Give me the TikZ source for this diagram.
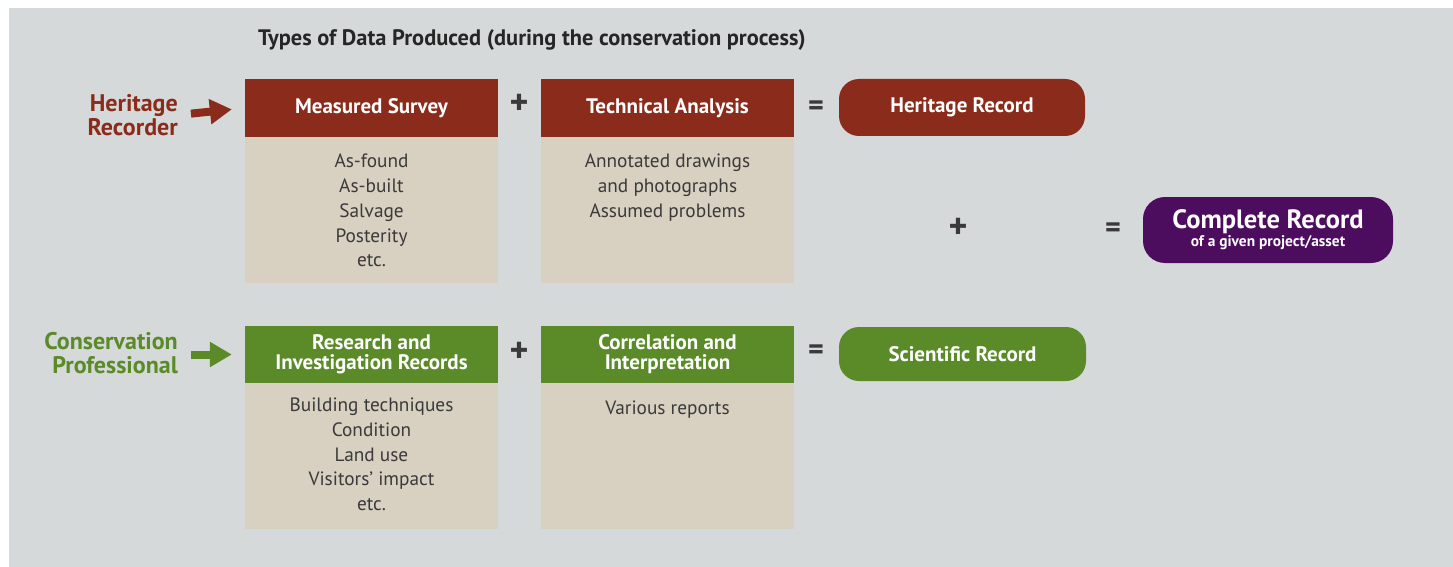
\documentclass[tikz,border=0pt]{standalone}
\usepackage{fontspec}
\setmainfont{PT Sans}
\usetikzlibrary{arrows.meta}

\definecolor{bggray}{HTML}{D6D9D9}
\definecolor{herired}{HTML}{8A2B1C}
\definecolor{consgreen}{HTML}{5B8A29}
\definecolor{bodytan}{HTML}{D8D0C1}
\definecolor{recpurple}{HTML}{4D0D5E}
\definecolor{darktext}{HTML}{3A3A3A}

\tikzset{
    headbox/.style={minimum width=253pt, minimum height=58pt, inner sep=0pt, text=white, align=center, font=\bfseries\fontsize{21}{20}\selectfont},
    bodybox/.style={fill=bodytan, minimum width=253pt, minimum height=146pt, inner sep=0pt, anchor=north},
    bodylist/.style={anchor=north, inner sep=0pt, align=center, text=darktext, font=\fontsize{19.3}{24.7}\selectfont},
    recbox/.style={rounded corners=20pt, inner sep=0pt, text=white, align=center, font=\bfseries\fontsize{21}{20}\selectfont},
    rolelabel/.style={anchor=east, inner sep=0pt, align=right, font=\bfseries\fontsize{24}{24}\selectfont},
    plussign/.style={inner sep=0pt, text=darktext, font=\bfseries\fontsize{36}{36}\selectfont},
    eqsign/.style={inner sep=0pt, text=darktext, font=\bfseries\fontsize{30}{30}\selectfont},
    fatarrow/.style={line width=8pt, -{Triangle[length=22pt, width=24pt]}, shorten <=13pt, shorten >=13pt}
}

\begin{document}
\begin{tikzpicture}[x=1pt, y=-1pt]
            \useasboundingbox (0,0) rectangle (1453,567);
            \fill[bggray] (9,8) rectangle (1453,567);

            % Title
            \node[inner sep=0pt, text=black!85, font=\bfseries\fontsize{22.4}{24}\selectfont] (title) at (532, 40) {Types of Data Produced (during the conservation process)};

            % Heritage row
            \node[rolelabel, text=herired] (heritage) at (178, 115) {Heritage\\Recorder};
            \node[headbox, fill=herired] (survey) at (371.5, 108) {Measured Survey};
            \node[bodybox] (surveybody) at (371.5, 137) {};
            \node[bodylist] (surveylist) at (371.5, 154) {As-found\\As-built\\Salvage\\Posterity\\etc.};
            \node[plussign] (plus1) at (519, 104) {+};
            \node[headbox, fill=herired] (analysis) at (667.5, 108) {Technical Analysis};
            \node[bodybox] (analysisbody) at (667.5, 137) {};
            \node[bodylist] (analysislist) at (667.5, 154) {Annotated drawings\\and photographs\\Assumed problems};
            \node[eqsign] (equals1) at (816, 108) {=};
            \node[recbox, fill=herired, minimum width=246pt, minimum height=57pt] (herrecord) at (962, 107.5) {Heritage Record};

            % Complete record
            \node[plussign] (plus3) at (958, 228) {+};
            \node[eqsign] (equals3) at (1113, 230) {=};
            \node[recbox, fill=recpurple, rounded corners=22pt, minimum width=250pt, minimum height=66pt] (complete) at (1268, 230) {{\fontsize{26.5}{26}\selectfont Complete Record}\\[-2pt]{\fontsize{15.4}{16}\selectfont of a given project/asset}};

            % Conservation row
            \node[rolelabel, text=consgreen] (conservation) at (178, 353) {Conservation\\Professional};
            \node[headbox, fill=consgreen, minimum height=57pt] (research) at (371.5, 354.5) {Research and\\Investigation Records};
            \node[bodybox] (researchbody) at (371.5, 383) {};
            \node[bodylist] (researchlist) at (371.5, 398) {Building techniques\\Condition\\Land use\\Visitors’ impact\\etc.};
            \node[plussign] (plus2) at (519, 352) {+};
            \node[headbox, fill=consgreen, minimum height=57pt] (correlation) at (667.5, 354.5) {Correlation and\\Interpretation};
            \node[bodybox] (correlationbody) at (667.5, 383) {};
            \node[bodylist] (correlationlist) at (667.5, 401) {Various reports};
            \node[eqsign] (equals2) at (816, 352) {=};
            \node[recbox, fill=consgreen, minimum width=247pt, minimum height=54pt] (scirecord) at (962.5, 354) {Scientific Record};

            % Arrows
            \draw[fatarrow, herired] (heritage.east) -- (survey.west);
            \draw[fatarrow, consgreen] (conservation.east |- research.west) -- (research.west);
\end{tikzpicture}
\end{document}
